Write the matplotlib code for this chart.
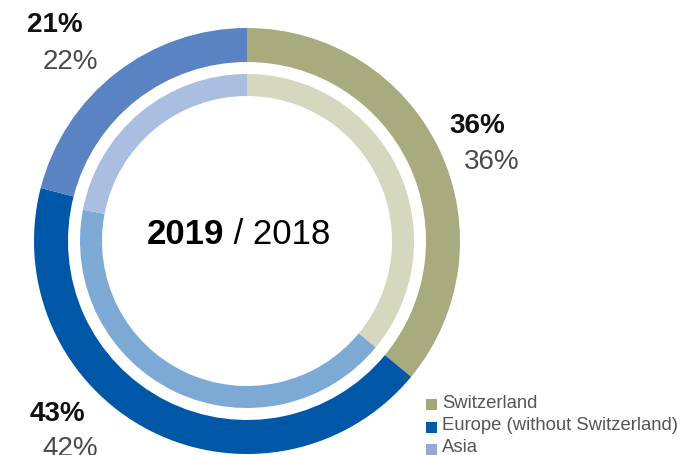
import matplotlib.pyplot as plt
from matplotlib.patches import Rectangle

# --- data ---
regions = ['Switzerland', 'Europe (without Switzerland)', 'Asia']
share_2019 = [36, 43, 21]
share_2018 = [36, 42, 22]

colors_2019 = ['#A8AB7E', '#0057A8', '#5A83C3']
colors_2018 = ['#D6D7BF', '#7DAAD5', '#A9BEE1']
legend_colors = ['#A4A67A', '#005CAB', '#93A9D2']

W, H = 689, 455
fig = plt.figure(figsize=(W / 100, H / 100), dpi=100)
ax = fig.add_axes([0, 0, 1, 1])

# pixel-like coordinates, y axis pointing down
cx, cy = 247, 241
ax.pie(share_2019, colors=colors_2019, radius=213, center=(cx, cy),
       startangle=-90, counterclock=True,
       wedgeprops=dict(width=34, linewidth=0))
ax.pie(share_2018, colors=colors_2018, radius=167, center=(cx, cy),
       startangle=-90, counterclock=True,
       wedgeprops=dict(width=22, linewidth=0))

ax.set_xlim(0, W)
ax.set_ylim(H, 0)
ax.set_aspect('auto')
ax.axis('off')

font = 'Liberation Sans'

# value labels: bold = 2019, light = 2018
label_pos = [((477, 126), (492, 162)),   # Switzerland
             ((57, 414), (70, 449)),     # Europe
             ((55, 25), (70, 62))]       # Asia
for (p19, p18), v19, v18 in zip(label_pos, share_2019, share_2018):
    ax.text(p19[0], p19[1], f'{v19}%', fontsize=20, fontweight='bold',
            family=font, color='#111111', ha='center', va='center')
    ax.text(p18[0], p18[1], f'{v18}%', fontsize=20, family=font,
            color='#4a4a4a', ha='center', va='center')

# centre text
ax.text(224, 235, '2019', fontsize=25, fontweight='bold', family=font,
        color='black', ha='right', va='center')
ax.text(224, 235, ' / 2018', fontsize=25, family=font,
        color='black', ha='left', va='center')

# legend
leg_y = [403, 426, 448]
for name, col, y in zip(regions, legend_colors, leg_y):
    ax.add_patch(Rectangle((426, y - 4), 11, 11, color=col, linewidth=0))
    ax.text(442, y, name, fontsize=13.3, family=font, color='#555555',
            ha='left', va='center')

fig.savefig('out.png', dpi=100)
